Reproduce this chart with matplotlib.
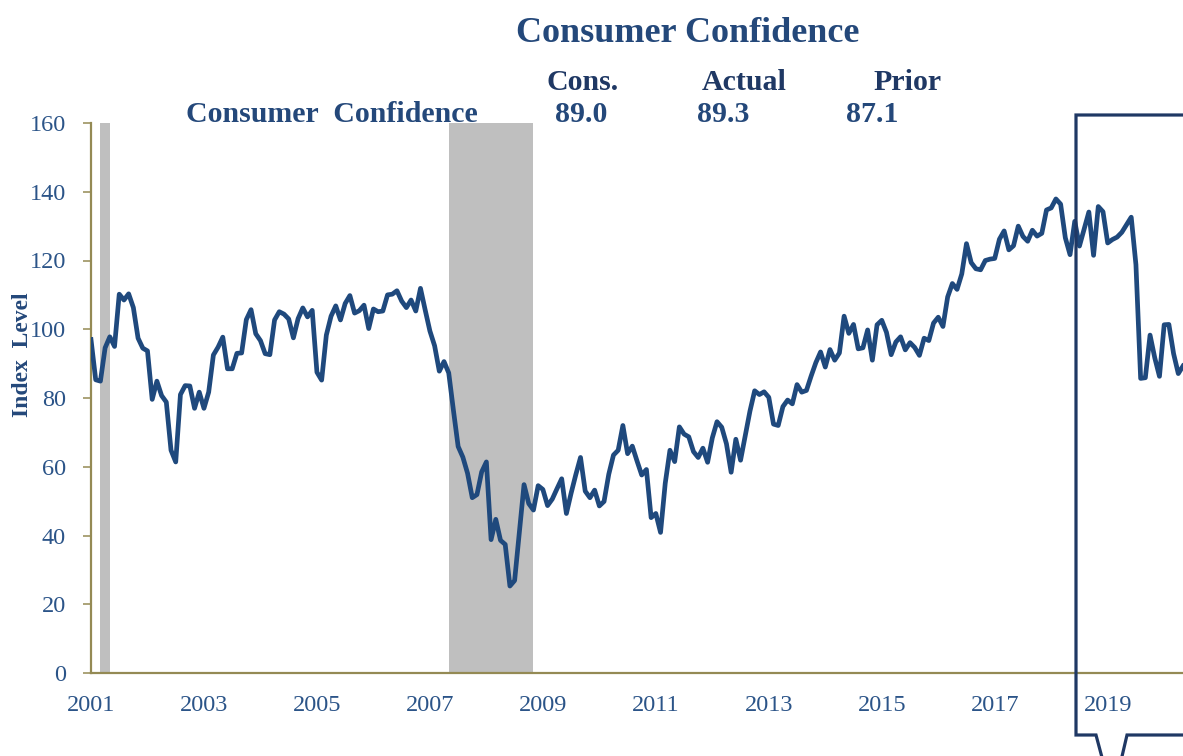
import numpy as np
import pandas as pd
import matplotlib
matplotlib.use('Agg')
import matplotlib.pyplot as plt
from matplotlib.lines import Line2D

matplotlib.rc('font', family='Liberation Serif')

NAVY = '#1F497D'
TEXT = '#24487A'
OLIVE = '#948A54'

# monthly index level, Sep 2001 .. Jan 2021
start = '2001-09'
values = [
    97.0, 85.3, 84.9, 94.6,
    97.8, 95.0, 110.2, 108.5, 110.3, 106.3, 97.4, 94.5, 93.7, 79.6, 84.9, 80.7,
    78.8, 64.8, 61.4, 81.0, 83.6, 83.5, 77.0, 81.7, 77.0, 81.7, 92.5, 94.8,
    97.7, 88.5, 88.5, 93.0, 93.1, 102.8, 105.7, 98.7, 96.7, 92.9, 92.6, 102.7,
    105.1, 104.4, 103.0, 97.5, 103.1, 106.2, 103.6, 105.5, 87.5, 85.2, 98.3, 103.8,
    106.8, 102.7, 107.5, 109.8, 104.7, 105.4, 107.0, 100.2, 105.9, 105.1, 105.3, 110.0,
    110.2, 111.2, 108.2, 106.3, 108.5, 105.3, 111.9, 105.6, 99.5, 95.2, 87.8, 90.6,
    87.3, 76.4, 65.9, 62.8, 58.1, 51.0, 51.9, 58.5, 61.4, 38.8, 44.7, 38.6,
    37.4, 25.3, 26.9, 40.8, 54.8, 49.3, 47.4, 54.5, 53.4, 48.7, 50.6, 53.6,
    56.5, 46.4, 52.3, 57.7, 62.7, 52.9, 51.0, 53.2, 48.6, 49.9, 57.8, 63.4,
    64.8, 72.0, 63.8, 66.0, 61.7, 57.6, 59.2, 45.2, 46.4, 40.9, 55.2, 64.8,
    61.5, 71.6, 69.5, 68.7, 64.4, 62.7, 65.4, 61.3, 68.4, 73.1, 71.5, 66.7,
    58.4, 68.0, 61.9, 69.0, 76.2, 82.1, 81.0, 81.8, 80.2, 72.4, 72.0, 77.5,
    79.4, 78.3, 83.9, 81.7, 82.2, 86.4, 90.3, 93.4, 89.0, 94.1, 91.0, 93.1,
    103.8, 98.8, 101.4, 94.3, 94.6, 99.8, 91.0, 101.3, 102.6, 99.1, 92.6, 96.3,
    97.8, 94.0, 96.1, 94.7, 92.4, 97.4, 96.7, 101.8, 103.5, 100.8, 109.4, 113.3,
    111.6, 116.1, 124.9, 119.4, 117.6, 117.3, 120.0, 120.4, 120.6, 126.2, 128.6, 123.1,
    124.3, 130.0, 127.0, 125.6, 128.8, 127.1, 127.9, 134.7, 135.3, 137.9, 136.4, 126.6,
    121.7, 131.4, 124.2, 129.2, 134.1, 121.5, 135.7, 134.2, 125.1, 126.1, 126.8, 128.2,
    130.4, 132.6, 118.8, 85.7, 85.9, 98.3, 91.7, 86.3, 101.3, 101.4, 92.9, 87.1,
    89.3,
]
recessions = [('2001-11', '2002-01'), ('2008-01', '2009-07')]

header_cols = ['Cons.', 'Actual', 'Prior']
header_vals = ['89.0', '89.3', '87.1']

months = pd.period_range(start, periods=len(values), freq='M')
x = np.arange(len(values))
p0 = pd.Period(start, freq='M')


def month_index(s):
    return (pd.Period(s, freq='M') - p0).n


W, H = 1183, 756
fig = plt.figure(figsize=(W / 100, H / 100), dpi=100)
ax = fig.add_axes([91 / W, (H - 673) / H, 1092 / W, 550 / H])

for a, b in recessions:
    ax.axvspan(month_index(a), month_index(b), color='#BFBFBF', lw=0, zorder=1)

ax.plot(x, values, color=NAVY, lw=3.4, zorder=3, solid_joinstyle='round')

ax.set_xlim(0, len(values) - 1)
ax.set_ylim(0, 160)
ax.set_yticks(range(0, 161, 20))
ticks = x[::24]
ax.set_xticks(ticks)
ax.set_xticklabels([str(months[i].year) for i in ticks])

for s in ['top', 'right']:
    ax.spines[s].set_visible(False)
for s in ['left', 'bottom']:
    ax.spines[s].set_color(OLIVE)
    ax.spines[s].set_linewidth(1.6)
ax.tick_params(axis='y', direction='out', length=6, width=1.1, color=OLIVE,
               labelsize=17.5, labelcolor='#2B5488', pad=12)
ax.tick_params(axis='x', length=0, labelsize=17.5, labelcolor='#2B5488', pad=16)

ax.set_ylabel('Index  Level', fontsize=17, fontweight='bold', color=TEXT)
ax.yaxis.set_label_coords(-58 / 1092, 0.578)

def fy(py):
    return 1 - py / H

fig.text(688 / W, fy(42), 'Consumer Confidence', ha='center', va='baseline',
         fontsize=26, fontweight='bold', color=TEXT)
fig.text(186 / W, fy(122), 'Consumer  Confidence', ha='left', va='baseline',
         fontsize=21.5, fontweight='bold', color=TEXT)
for cx, lab in zip([583, 744, 908], header_cols):
    fig.text(cx / W, fy(90), lab, ha='center', va='baseline',
             fontsize=21.5, fontweight='bold', color='#1F3864')
for cx, lab in zip([581, 723, 872], header_vals):
    fig.text(cx / W, fy(122), lab, ha='center', va='baseline',
             fontsize=21.5, fontweight='bold', color=TEXT)

# callout box around the latest readings
box_l = [(1200, 115), (1076, 115), (1076, 735), (1096, 735), (1104, 765)]
box_r = [(1120, 765), (1127, 735), (1200, 735)]
for pts in (box_l, box_r):
    px, py = zip(*pts)
    fig.add_artist(Line2D([v / W for v in px], [fy(v) for v in py],
                          transform=fig.transFigure, color='#1F3864', lw=2.3,
                          solid_joinstyle='miter'))

fig.savefig('out.png', dpi=100)
